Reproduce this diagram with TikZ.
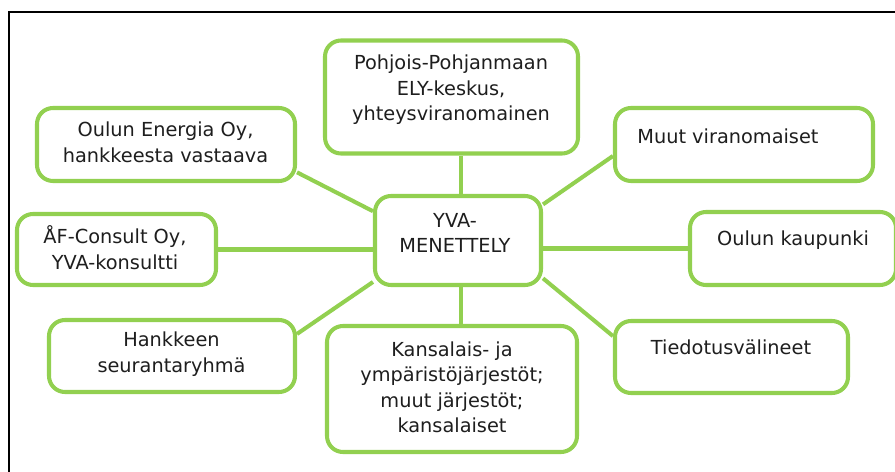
\documentclass[tikz,border=0pt]{standalone}
\usepackage{fontspec}
\setmainfont{DejaVu Sans}
\usetikzlibrary{positioning}
\definecolor{leafgreen}{RGB}{146,208,80}
\definecolor{inkgray}{RGB}{30,30,30}
\tikzset{
  party/.style 2 args={draw=leafgreen,line width=2.3pt,rounded corners=0.32cm,fill=white,
    minimum width=#1*0.02cm,minimum height=#2*0.02cm,inner sep=0pt},
  boxtext/.style={inner sep=0pt,align=center,text=inkgray,font=\fontsize{11}{14.5}\selectfont},
  link/.style={draw=leafgreen,line width=2.3pt}
}

\begin{document}
\begin{tikzpicture}[x=0.02cm,y=-0.02cm]
\useasboundingbox (0,0) rectangle (895,472);
\draw[line width=1.1pt] (9,472) -- (9,12) -- (895,12);

% boxes
\node[party={253}{113}] (ely) at (451.5,97) {};
\node[party={166}{89}] (yva) at (458,240.5) {};
\node[party={258}{73}] (energia) at (166,144.5) {};
\node[party={258}{73}] (muut) at (744,144.5) {};
\node[party={199}{71}] (af) at (116.5,249.5) {};
\node[party={206}{73}] (oulu) at (793,248.5) {};
\node[party={246}{72}] (hank) at (172,356) {};
\node[party={233}{72}] (tied) at (731.5,357) {};
\node[party={250}{126}] (kans) at (452,389) {};

% texts
\node[boxtext] (ely-t) at (451,90) {Pohjois-Pohjanmaan\\ELY-keskus,\\yhteysviranomainen};
\node[boxtext] (yva-t) at (455,233) {YVA-\\MENETTELY};
\node[boxtext] (energia-t) at (165.5,142.5) {Oulun Energia Oy,\\hankkeesta vastaava};
\node[boxtext,anchor=west] (muut-t) at (637,136) {Muut viranomaiset};
\node[boxtext] (af-t) at (115,247.5) {ÅF-Consult Oy,\\YVA-konsultti};
\node[boxtext] (oulu-t) at (793,240) {Oulun kaupunki};
\node[boxtext] (hank-t) at (171.5,354) {Hankkeen\\seurantaryhmä};
\node[boxtext] (tied-t) at (731,347) {Tiedotusvälineet};
\node[boxtext] (kans-t) at (452,387.5) {Kansalais- ja\\ympäristöjärjestöt;\\muut järjestöt;\\kansalaiset};

% links
\path[link]
(yva.86) edge (yva.86 |- ely.south)
(yva.274) edge (yva.274 |- kans.north)
(yva.161) edge (energia.348)
(yva.23) edge (muut.185)
(af.east) edge (af.east -| yva.west)
(oulu.west) edge (oulu.west -| yva.east)
(yva.206) edge (hank.10)
(yva.336) edge (tied.170);
\end{tikzpicture}
\end{document}
